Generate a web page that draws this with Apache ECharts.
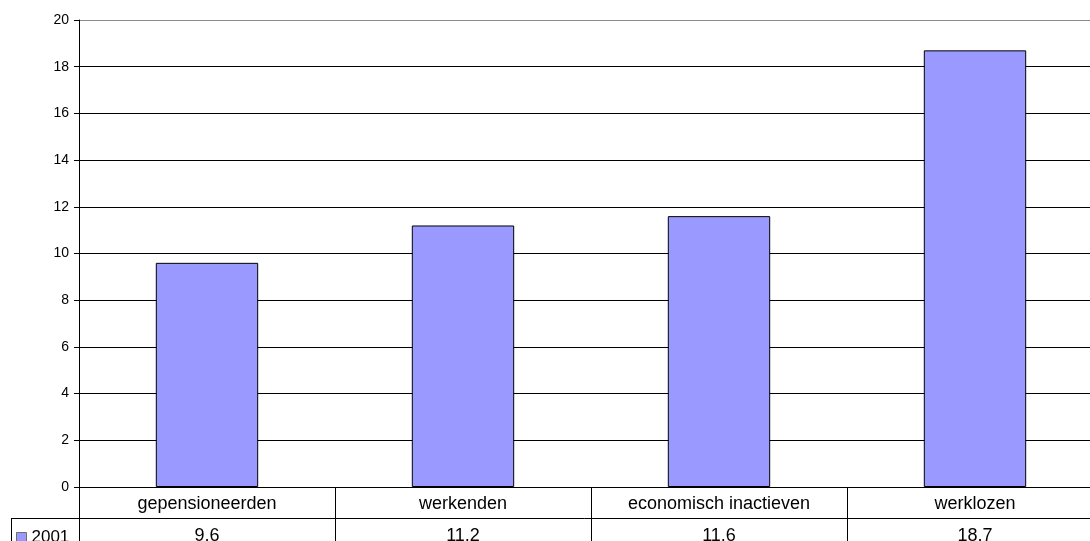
<!DOCTYPE html>
<html><head><meta charset="utf-8">
<script src="https://cdn.jsdelivr.net/npm/echarts@6/dist/echarts.min.js"></script>
<style>html,body{margin:0;padding:0;background:#fff}#c{width:1090px;height:541px}</style>
</head><body><div id="c"></div>
<script>
const categories = ['gepensioneerden', 'werkenden', 'economisch inactieven', 'werklozen'];
const seriesName = '2001';
const values = [9.6, 11.2, 11.6, 18.7];
const yMin = 0, yMax = 20, yInterval = 2;

const FONT = 'Liberation Sans, Arial, sans-serif';
const splitColors = [];
for (let v = yMin; v <= yMax; v += yInterval) splitColors.push(v === yMax ? '#8c8c8c' : '#000');

const chart = echarts.init(document.getElementById('c'), null, {renderer: 'canvas'});
chart.setOption({
  animation: false,
  backgroundColor: '#fff',
  grid: {left: 79, right: -13, top: 20, bottom: 54, containLabel: false, outerBoundsMode: 'none'},
  legend: {
    data: [seriesName], left: 16, top: 529, icon: 'rect', itemWidth: 10, itemHeight: 10, itemGap: 5,
    padding: 0,
    itemStyle: {borderColor: '#707070', borderWidth: 1},
    textStyle: {fontFamily: FONT, fontSize: 17, color: '#000', padding: [0, 0, 0, 0]}
  },
  xAxis: [{
    type: 'category', data: categories, position: 'bottom',
    axisLine: {lineStyle: {color: '#000', width: 1}},
    axisTick: {show: true, interval: 0, length: 60, lineStyle: {color: '#000'}},
    axisLabel: {interval: 0, margin: 8, fontFamily: FONT, fontSize: 18, color: '#000'}
  }, {
    type: 'category', data: values.map(v => v.toFixed(1).replace('.', ',')), position: 'bottom', offset: 31,
    axisLine: {show: true, lineStyle: {color: '#000', width: 1}},
    axisTick: {show: false},
    axisLabel: {interval: 0, margin: 9, fontFamily: FONT, fontSize: 18, color: '#000'}
  }],
  yAxis: {
    type: 'value', min: yMin, max: yMax, interval: yInterval,
    axisLine: {show: true, lineStyle: {color: '#000'}},
    axisTick: {show: true, length: 5, lineStyle: {color: '#000'}},
    axisLabel: {margin: 10, fontFamily: FONT, fontSize: 14, color: '#000'},
    splitLine: {show: true, lineStyle: {color: splitColors, width: 1}}
  },
  graphic: [
    {type: 'line', shape: {x1: 11, y1: 518.5, x2: 79, y2: 518.5}, style: {stroke: '#000', lineWidth: 1}},
    {type: 'line', shape: {x1: 11.5, y1: 518, x2: 11.5, y2: 541}, style: {stroke: '#000', lineWidth: 1}}
  ],
  series: [{
    name: seriesName, type: 'bar', data: values, xAxisIndex: 0,
    barCategoryGap: '60%',
    itemStyle: {color: '#9999ff', borderColor: '#000', borderWidth: 1}
  }]
});
</script></body></html>
